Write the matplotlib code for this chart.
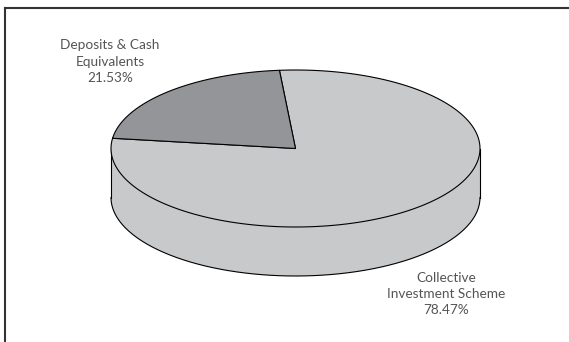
import numpy as np
import matplotlib.pyplot as plt
from matplotlib.patches import Polygon

# Portfolio allocation
labels = ["Collective\nInvestment Scheme", "Deposits & Cash\nEquivalents"]
values = [78.47, 21.53]
colors = ["#c8c9cb", "#939598"]
label_pos = [(446, 294), (110, 61.5)]

# pie geometry in pixel space
cx, cy = 295.5, 148.5
rx, ry = 184.5, 78.5
depth = 49
start = 95.0

fig = plt.figure(figsize=(5.69, 3.42), dpi=100)
ax = fig.add_axes([0, 0, 1, 1])
ax.set_xlim(0, 569)
ax.set_ylim(342, 0)
ax.axis("off")


def arc(t0, t1, dy=0, n=200):
    t = np.radians(np.linspace(t0, t1, n))
    return np.column_stack([cx + rx * np.cos(t), cy - ry * np.sin(t) + dy])


# slice angles, clockwise from the start angle
total = sum(values)
bounds = []
a = start
for v in values:
    b = a - v / total * 360.0
    bounds.append((b, a))
    a = b

# front wall (visible between 180 and 360 degrees)
for (t0, t1), col in zip(bounds, colors):
    for k in range(-1, 2):
        lo = max(t0, 180 + 360 * k)
        hi = min(t1, 360 + 360 * k)
        if hi > lo:
            top = arc(lo, hi)
            bot = arc(hi, lo, depth)
            ax.add_patch(Polygon(np.vstack([top, bot]), closed=True,
                                 facecolor=col, edgecolor="none", zorder=1))

# wall outline
ax.plot(*arc(180, 360, depth).T, color="black", lw=0.8, zorder=2)
ax.plot([cx - rx, cx - rx], [cy, cy + depth], color="black", lw=0.8, zorder=2)
ax.plot([cx + rx, cx + rx], [cy, cy + depth], color="black", lw=0.8, zorder=2)

# top face wedges
for (t0, t1), col in zip(bounds, colors):
    pts = np.vstack([[cx, cy], arc(t0, t1)])
    ax.add_patch(Polygon(pts, closed=True, facecolor=col, edgecolor="black",
                         lw=0.8, joinstyle="round", zorder=3))

for lab, v, (x, y) in zip(labels, values, label_pos):
    ax.text(x, y, f"{lab}\n{v:.2f}%", ha="center", va="center",
            fontsize=9.8, color="#555557", linespacing=1.45,
            family=["Lato", "DejaVu Sans"])

# frame: top and left rules only
ax.plot([5.5, 569], [7.5, 7.5], color="#333333", lw=1.5, zorder=4)
ax.plot([5.5, 5.5], [7.5, 342], color="#333333", lw=1.5, zorder=4)

fig.savefig("out.png", dpi=100)
